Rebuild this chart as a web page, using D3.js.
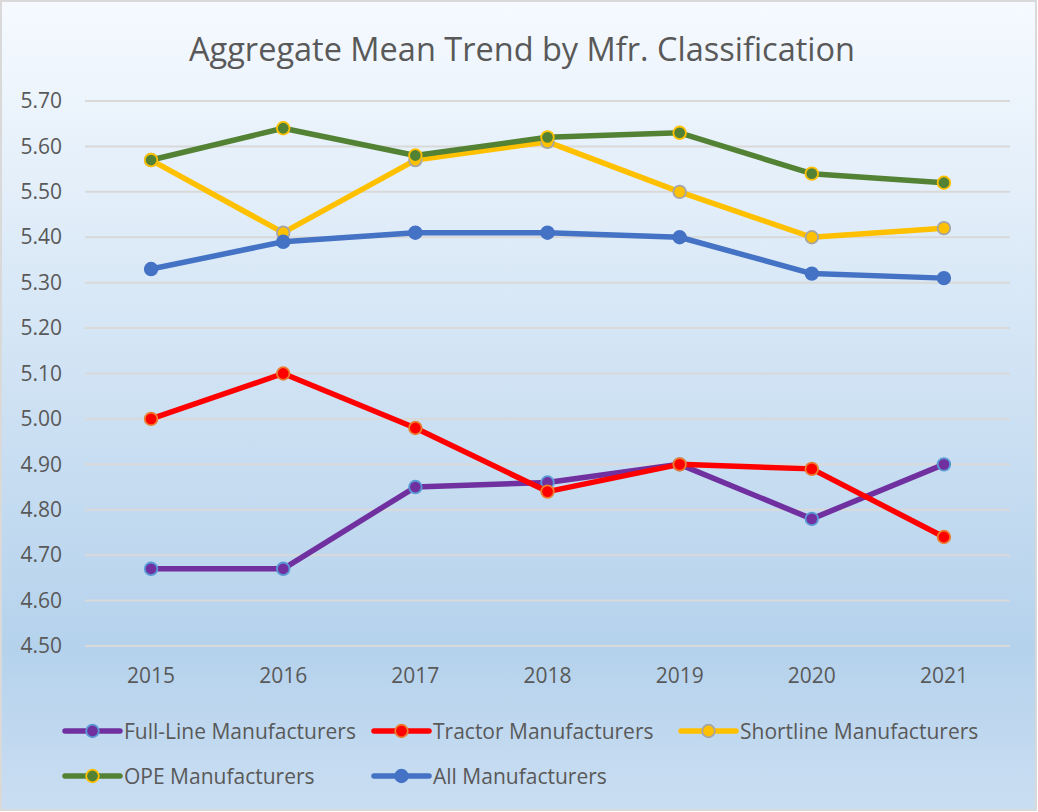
<!DOCTYPE html>
<html>
<head>
<meta charset="utf-8">
<script src="https://cdn.jsdelivr.net/npm/d3@7"></script>
<style>
  body { margin: 0; background: #fff; }
  svg text { font-family: "Open Sans", "Noto Sans", sans-serif; fill: #595959; }
</style>
</head>
<body>
<div id="chart"></div>
<script>
// data
var years = ["2015", "2016", "2017", "2018", "2019", "2020", "2021"];
var yTicks = [4.5, 4.6, 4.7, 4.8, 4.9, 5.0, 5.1, 5.2, 5.3, 5.4, 5.5, 5.6, 5.7];

var fullLine  = [4.67, 4.67, 4.85, 4.86, 4.90, 4.78, 4.90];
var tractor   = [5.00, 5.10, 4.98, 4.84, 4.90, 4.89, 4.74];
var shortline = [5.57, 5.41, 5.57, 5.61, 5.50, 5.40, 5.42];
var ope       = [5.57, 5.64, 5.58, 5.62, 5.63, 5.54, 5.52];
var allMfr    = [5.33, 5.39, 5.41, 5.41, 5.40, 5.32, 5.31];

var series = [
  {name: "Full-Line Manufacturers", values: fullLine,  line: "#7030a0", fill: "#7030a0", stroke: "#5b9bd5"},
  {name: "Tractor Manufacturers",   values: tractor,   line: "#ff0000", fill: "#ff0000", stroke: "#ed7d31"},
  {name: "Shortline Manufacturers", values: shortline, line: "#ffc000", fill: "#ffc000", stroke: "#a5a5a5"},
  {name: "OPE Manufacturers",       values: ope,       line: "#548235", fill: "#548235", stroke: "#ffc000"},
  {name: "All Manufacturers",       values: allMfr,    line: "#4472c4", fill: "#4472c4", stroke: "#4472c4"}
];

var W = 1038, H = 812;
var svg = d3.select("#chart").append("svg").attr("width", W).attr("height", H);

// background gradient like the office chart
var defs = svg.append("defs");
var grad = defs.append("linearGradient").attr("id", "bg")
  .attr("x1", 0).attr("y1", 0).attr("x2", 0).attr("y2", 1);
grad.append("stop").attr("offset", "0%").attr("stop-color", "#f6faff");
grad.append("stop").attr("offset", "80%").attr("stop-color", "#b5d2ec");
grad.append("stop").attr("offset", "100%").attr("stop-color", "#cadef2");

svg.append("rect")
  .attr("x", 1).attr("y", 1).attr("width", W - 3).attr("height", H - 3)
  .attr("fill", "url(#bg)")
  .attr("stroke", "#d9d9d9").attr("stroke-width", 2);

svg.append("text")
  .attr("x", 522).attr("y", 61)
  .attr("text-anchor", "middle")
  .style("font-size", "32.5px")
  .text("Aggregate Mean Trend by Mfr. Classification");

var x = d3.scaleBand().domain(years).range([85, 1010]);
var y = d3.scaleLinear().domain([4.5, 5.7]).range([646, 101]);
var cx = function(i) { return x(years[i]) + x.bandwidth() / 2; };

// gridlines
svg.append("g").selectAll("line").data(yTicks).enter().append("line")
  .attr("x1", 85).attr("x2", 1010)
  .attr("y1", function(d) { return y(d); })
  .attr("y2", function(d) { return y(d); })
  .attr("stroke", "#d9d9d9").attr("stroke-width", 2);

// y axis labels
var yAxis = svg.append("g").attr("transform", "translate(62,0)")
  .call(d3.axisLeft(y).tickValues(yTicks).tickFormat(d3.format(".2f")).tickSize(0).tickPadding(0));
yAxis.select(".domain").remove();
yAxis.selectAll("text").style("font-size", "21px").style("fill", "#595959").attr("font-family", null);

// x axis labels
var xAxis = svg.append("g").attr("transform", "translate(0,668)")
  .call(d3.axisBottom(x).tickSize(0).tickPadding(0));
xAxis.select(".domain").remove();
xAxis.selectAll("text").style("font-size", "21px").style("fill", "#595959").attr("font-family", null).attr("dy", "0.71em");

var line = d3.line()
  .x(function(d, i) { return cx(i); })
  .y(function(d) { return y(d); });

series.forEach(function(s) {
  var g = svg.append("g");
  g.append("path")
    .attr("d", line(s.values))
    .attr("fill", "none")
    .attr("stroke", s.line)
    .attr("stroke-width", 5.5)
    .attr("stroke-linejoin", "round")
    .attr("stroke-linecap", "round");
  g.selectAll("circle").data(s.values).enter().append("circle")
    .attr("cx", function(d, i) { return cx(i); })
    .attr("cy", function(d) { return y(d); })
    .attr("r", 6.3)
    .attr("fill", s.fill)
    .attr("stroke", s.stroke)
    .attr("stroke-width", 1.8);
});

// legend
var legendPos = [[65, 731], [374, 731], [681, 731], [65, 776], [374, 776]];
series.forEach(function(s, i) {
  var p = legendPos[i];
  var len = 55;
  var g = svg.append("g").attr("transform", "translate(" + p[0] + "," + p[1] + ")");
  g.append("line")
    .attr("x1", 0).attr("x2", len).attr("y1", 0).attr("y2", 0)
    .attr("stroke", s.line).attr("stroke-width", 5.5).attr("stroke-linecap", "round");
  g.append("circle")
    .attr("cx", len / 2).attr("cy", 0).attr("r", 6.3)
    .attr("fill", s.fill).attr("stroke", s.stroke).attr("stroke-width", 1.8);
  g.append("text")
    .attr("x", len + 4).attr("y", 0).attr("dy", "0.36em")
    .style("font-size", "21px")
    .text(s.name);
});
</script>
</body>
</html>
